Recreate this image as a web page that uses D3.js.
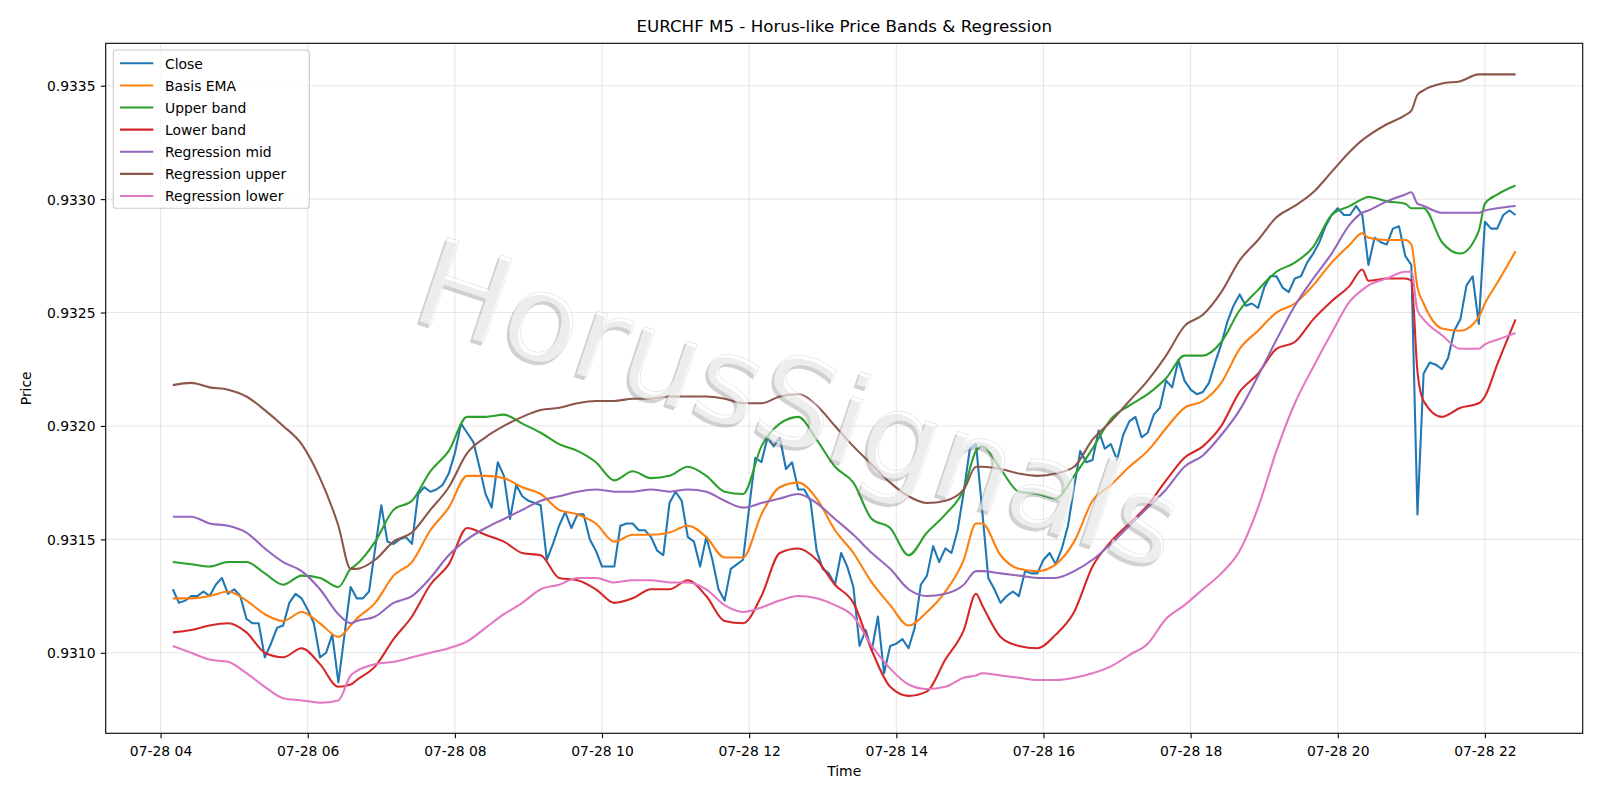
<!DOCTYPE html>
<html><head><meta charset="utf-8">
<script src="https://cdn.jsdelivr.net/npm/d3@7"></script>
<style>body{margin:0;background:#fff;} svg{display:block;font-family:"DejaVu Sans",sans-serif;}</style>
</head><body><svg id="chart" width="1600" height="800"></svg>
<script>
// ---- data ----
const startTime = new Date(2024, 6, 28, 4, 10);
const stepMinutes = 5;
const closeValues = [
0.93128,0.93122,0.93123,0.93125,0.93125,0.93127,0.93125,0.93130,0.93133,0.93126,
0.93128,0.93125,0.93115,0.93113,0.93113,0.93098,0.93104,0.93111,0.93112,0.93122,
0.93126,0.93124,0.93119,0.93113,0.93098,0.93100,0.93108,0.93087,0.93108,0.93129,
0.93124,0.93124,0.93127,0.93146,0.93165,0.93149,0.93148,0.93150,0.93151,0.93148,
0.93170,0.93173,0.93171,0.93172,0.93174,0.93179,0.93188,0.93201,0.93197,0.93193,
0.93182,0.93170,0.93164,0.93184,0.93178,0.93159,0.93174,0.93169,0.93167,0.93166,
0.93165,0.93141,0.93148,0.93156,0.93162,0.93155,0.93161,0.93161,0.93150,0.93145,
0.93138,0.93138,0.93138,0.93156,0.93157,0.93157,0.93154,0.93154,0.93151,0.93145,
0.93143,0.93166,0.93171,0.93167,0.93151,0.93149,0.93138,0.93151,0.93141,0.93128,
0.93123,0.93137,0.93139,0.93141,0.93164,0.93186,0.93184,0.93195,0.93191,0.93195,
0.93181,0.93184,0.93172,0.93172,0.93167,0.93145,0.93137,0.93135,0.93130,0.93144,
0.93138,0.93129,0.93103,0.93110,0.93101,0.93116,0.93091,0.93103,0.93104,0.93106,
0.93102,0.93111,0.93130,0.93134,0.93147,0.93140,0.93146,0.93144,0.93154,0.93171,
0.93190,0.93192,0.93163,0.93133,0.93128,0.93122,0.93125,0.93127,0.93125,0.93136,
0.93135,0.93135,0.93141,0.93144,0.93139,0.93146,0.93156,0.93173,0.93189,0.93184,
0.93185,0.93198,0.93190,0.93192,0.93185,0.93196,0.93202,0.93204,0.93195,0.93197,
0.93205,0.93208,0.93220,0.93217,0.93229,0.93220,0.93216,0.93214,0.93215,0.93219,
0.93228,0.93236,0.93246,0.93253,0.93258,0.93253,0.93254,0.93252,0.93261,0.93266,
0.93266,0.93261,0.93259,0.93265,0.93266,0.93272,0.93276,0.93281,0.93288,0.93293,
0.93296,0.93293,0.93293,0.93297,0.93293,0.93271,0.93283,0.93281,0.93280,0.93287,
0.93288,0.93275,0.93271,0.93161,0.93223,0.93228,0.93227,0.93225,0.93230,0.93242,
0.93247,0.93262,0.93266,0.93245,0.93290,0.93287,0.93287,0.93293,0.93295,0.93293];

// bar indices (5-minute steps from startTime) at which the smooth series were read
const bandIndex = [0,3,6,9,12,15,18,21,24,27,29,30,33,36,39,42,45,48,51,54,57,60,63,66,69,72,75,78,81,84,87,90,93,96,99,102,105,108,111,114,117,120,123,126,129,131,132,135,138,141,144,147,150,153,156,159,162,165,168,171,174,177,180,183,186,189,192,194,195,198,201,202,203,204,207,210,213,214,216,219];

const basisEMA = [0.93124,0.93124,0.93125,0.93127,0.93123,0.93117,0.93114,0.93118,0.93113,0.93107,
0.93112,
0.93115,0.93122,0.93134,0.93140,0.93154,0.93164,0.93178,0.93178,0.93177,0.93173,
0.93170,0.93163,0.93161,0.93157,0.93149,0.93152,0.93152,0.93153,0.93156,0.93151,
0.93142,0.93142,0.93161,0.93173,0.93175,0.93168,0.93154,0.93144,0.93131,0.93121,
0.93112,0.93118,0.93127,0.93141,
0.93157,
0.93157,0.93143,0.93137,0.93136,0.93139,0.93149,0.93167,0.93174,0.93182,0.93189,
0.93199,0.93208,0.93211,0.93219,0.93234,0.93242,0.93250,0.93254,0.93262,0.93272,
0.93280,0.93285,0.93283,0.93282,0.93282,
0.93280,0.93261,
0.93254,0.93243,0.93242,0.93248,
0.93254,
0.93263,0.93277];

const upperBand = [0.93140,0.93139,0.93138,0.93140,0.93140,0.93135,0.93130,0.93134,0.93133,0.93129,
0.93137,
0.93139,0.93149,0.93163,0.93167,0.93180,0.93189,0.93204,0.93204,0.93205,0.93201,
0.93197,0.93192,0.93189,0.93184,0.93176,0.93180,0.93177,0.93178,0.93182,0.93178,
0.93171,0.93170,0.93191,0.93201,0.93204,0.93194,0.93182,0.93175,0.93159,0.93155,
0.93143,0.93153,0.93161,0.93172,
0.93189,
0.93191,0.93181,0.93171,0.93170,0.93168,0.93178,0.93190,0.93203,0.93209,0.93214,
0.93221,0.93231,0.93231,0.93237,0.93251,0.93260,0.93268,0.93272,0.93279,0.93293,
0.93297,0.93300,0.93301,0.93299,0.93298,
0.93296,0.93296,
0.93296,0.93281,0.93276,0.93286,
0.93298,
0.93302,0.93306];

const lowerBand = [0.93109,0.93110,0.93112,0.93113,0.93109,0.93100,0.93098,0.93102,0.93095,0.93085,
0.93086,
0.93088,0.93094,0.93106,0.93116,0.93130,0.93139,0.93155,0.93152,0.93149,0.93144,
0.93143,0.93133,0.93132,0.93128,0.93122,0.93124,0.93128,0.93128,0.93132,0.93125,
0.93114,0.93113,0.93125,0.93144,0.93146,0.93141,0.93130,0.93122,0.93101,0.93085,
0.93081,0.93083,0.93097,0.93110,
0.93126,
0.93121,0.93107,0.93103,0.93102,0.93108,0.93118,0.93138,0.93149,0.93157,0.93165,
0.93176,0.93186,0.93191,0.93200,0.93215,0.93223,0.93234,0.93237,0.93247,0.93255,
0.93262,0.93269,0.93264,0.93265,0.93265,
0.93264,0.93224,
0.93211,0.93204,0.93208,0.93210,
0.93213,
0.93227,0.93247];

const regressionMid = [0.93160,0.93160,0.93157,0.93156,0.93153,0.93146,0.93140,0.93136,0.93128,0.93117,
0.93113,
0.93114,0.93116,0.93122,0.93125,0.93133,0.93143,0.93150,0.93155,0.93159,0.93163,
0.93167,0.93169,0.93171,0.93172,0.93171,0.93171,0.93172,0.93171,0.93172,0.93171,
0.93167,0.93164,0.93166,0.93168,0.93170,0.93166,0.93159,0.93152,0.93144,0.93137,
0.93128,0.93125,0.93126,0.93130,
0.93136,
0.93136,0.93135,0.93134,0.93133,0.93133,0.93136,0.93141,0.93148,0.93156,0.93164,
0.93172,0.93182,0.93187,0.93196,0.93207,0.93222,0.93238,0.93253,0.93265,0.93276,
0.93289,0.93294,0.93295,0.93299,0.93302,
0.93303,0.93298,
0.93297,0.93294,0.93294,0.93294,
0.93295,
0.93296,0.93297];

const regressionUpper = [0.93218,0.93219,0.93217,0.93216,0.93213,0.93207,0.93200,0.93192,0.93177,0.93156,
0.93137,
0.93137,0.93141,0.93149,0.93153,0.93163,0.93173,0.93188,0.93195,0.93200,0.93204,
0.93207,0.93208,0.93210,0.93211,0.93211,0.93212,0.93212,0.93213,0.93213,0.93213,
0.93212,0.93210,0.93210,0.93213,0.93214,0.93209,0.93200,0.93191,0.93183,0.93175,
0.93169,0.93166,0.93167,0.93172,
0.93182,
0.93182,0.93181,0.93179,0.93178,0.93179,0.93182,0.93194,0.93202,0.93211,0.93220,
0.93231,0.93244,0.93249,0.93259,0.93273,0.93282,0.93292,0.93297,0.93303,0.93312,
0.93321,0.93326,0.93328,0.93333,0.93337,
0.93339,0.93346,
0.93348,0.93351,0.93352,0.93355,
0.93355,
0.93355,0.93355];

const regressionLower = [0.93103,0.93100,0.93097,0.93096,0.93091,0.93085,0.93080,0.93079,0.93078,0.93079,
0.93090,
0.93092,0.93095,0.93096,0.93098,0.93100,0.93102,0.93105,0.93111,0.93117,0.93122,
0.93128,0.93130,0.93133,0.93133,0.93131,0.93132,0.93132,0.93131,0.93131,0.93128,
0.93121,0.93118,0.93120,0.93123,0.93125,0.93124,0.93121,0.93116,0.93103,0.93093,
0.93086,0.93084,0.93085,0.93089,
0.93090,
0.93091,0.93090,0.93089,0.93088,0.93088,0.93089,0.93091,0.93094,0.93099,0.93104,
0.93115,0.93121,0.93128,0.93135,0.93145,0.93164,0.93189,0.93210,0.93226,0.93241,
0.93255,0.93260,0.93262,0.93265,0.93268,
0.93268,0.93251,
0.93247,0.93240,0.93234,0.93234,
0.93236,
0.93238,0.93241];

const seriesNames = ["Close","Basis EMA","Upper band","Lower band","Regression mid","Regression upper","Regression lower"];
const seriesColors = ["#1f77b4","#ff7f0e","#2ca02c","#d62728","#9467bd","#8c564b","#e377c2"];
const yTickValues = [0.9310,0.9315,0.9320,0.9325,0.9330,0.9335];
const xTickHours = [4,6,8,10,12,14,16,18,20,22];
const titleText = "EURCHF M5 - Horus-like Price Bands & Regression";
const watermarkText = "HorusSignals";

// ---- layout ----
const W = 1600, H = 800;
const axL = 105.7, axR = 1582.7, axT = 43.3, axB = 733.3;
const svg = d3.select("#chart");
svg.append("rect").attr("width", W).attr("height", H).attr("fill", "#fff");

const toTime = i => new Date(startTime.getTime() + i * stepMinutes * 60000);
const closeData = closeValues.map((v, i) => ({t: toTime(i), v}));
const endTime = toTime(closeValues.length - 1);
const span = endTime - startTime;
const x = d3.scaleTime()
  .domain([new Date(startTime.getTime() - 0.05 * span), new Date(endTime.getTime() + 0.05 * span)])
  .range([axL, axR]);
const y = d3.scaleLinear().domain([0.930645, 0.933687]).range([axB, axT]);

const fontSize = 13.9;
const xTicks = xTickHours.map(h => new Date(2024, 6, 28, h, 0));
const grid = svg.append("g");
grid.selectAll("line.gx").data(xTicks).join("line")
  .attr("x1", d => x(d)).attr("x2", d => x(d)).attr("y1", axT).attr("y2", axB)
  .attr("stroke", "#b0b0b0").attr("stroke-opacity", 0.3).attr("stroke-width", 1.1);
grid.selectAll("line.gy").data(yTickValues).join("line")
  .attr("x1", axL).attr("x2", axR).attr("y1", d => y(d)).attr("y2", d => y(d))
  .attr("stroke", "#b0b0b0").attr("stroke-opacity", 0.3).attr("stroke-width", 1.1);

svg.append("clipPath").attr("id", "clip").append("rect")
  .attr("x", axL).attr("y", axT).attr("width", axR - axL).attr("height", axB - axT);

const plot = svg.append("g").attr("clip-path", "url(#clip)");
const lineClose = d3.line().x(d => x(d.t)).y(d => y(d.v));
const lineSmooth = d3.line().x(d => x(d.t)).y(d => y(d.v)).curve(d3.curveMonotoneX);
const bandSeries = [basisEMA, upperBand, lowerBand, regressionMid, regressionUpper, regressionLower];

plot.append("path").datum(closeData).attr("d", lineClose)
  .attr("fill", "none").attr("stroke", seriesColors[0]).attr("stroke-width", 2.08)
  .attr("stroke-linejoin", "round");
bandSeries.forEach((arr, k) => {
  const data = arr.map((v, j) => ({t: toTime(bandIndex[j]), v}));
  plot.append("path").datum(data).attr("d", lineSmooth)
    .attr("fill", "none").attr("stroke", seriesColors[k + 1]).attr("stroke-width", 2.08)
    .attr("stroke-linejoin", "round");
});

const xAxis = d3.axisBottom(x).tickValues(xTicks).tickFormat(d3.timeFormat("%m-%d %H"))
  .tickSize(4.9).tickPadding(4.9);
const yAxis = d3.axisLeft(y).tickValues(yTickValues).tickFormat(d3.format(".4f"))
  .tickSize(4.9).tickPadding(4.9);
const gx = svg.append("g").attr("transform", `translate(0,${axB})`).call(xAxis);
const gy = svg.append("g").attr("transform", `translate(${axL},0)`).call(yAxis);
[gx, gy].forEach(g => {
  g.select(".domain").remove();
  g.selectAll(".tick line").attr("stroke", "#000").attr("stroke-width", 1.1);
  g.selectAll(".tick text").attr("fill", "#000").attr("font-size", fontSize)
    .attr("font-family", "DejaVu Sans");
});
gx.selectAll(".tick text").attr("dy", null).attr("y", 22.4);
gy.selectAll(".tick text").attr("dy", null).attr("y", 5).attr("x", -10.2);

svg.append("rect").attr("x", axL).attr("y", axT).attr("width", axR - axL).attr("height", axB - axT)
  .attr("fill", "none").attr("stroke", "#000").attr("stroke-width", 1.1);

svg.append("text").attr("x", (axL + axR) / 2).attr("y", 32).attr("text-anchor", "middle")
  .attr("font-size", 16.7).attr("fill", "#000").text(titleText);
svg.append("text").attr("x", (axL + axR) / 2).attr("y", 776).attr("text-anchor", "middle")
  .attr("font-size", fontSize).attr("fill", "#000").text("Time");
svg.append("text").attr("transform", `translate(30.5,${(axT + axB) / 2}) rotate(-90)`)
  .attr("text-anchor", "middle").attr("font-size", fontSize).attr("fill", "#000").text("Price");

const lg = svg.append("g");
lg.append("rect").attr("x", 113.3).attr("y", 50).attr("width", 196).attr("height", 158.3)
  .attr("rx", 2.8).attr("fill", "#fff").attr("fill-opacity", 0.8)
  .attr("stroke", "#cccccc").attr("stroke-width", 1.1);
seriesNames.forEach((name, k) => {
  const cy = 63.3 + k * 22.12;
  lg.append("line").attr("x1", 120).attr("x2", 153.3).attr("y1", cy).attr("y2", cy)
    .attr("stroke", seriesColors[k]).attr("stroke-width", 2.08);
  lg.append("text").attr("x", 165).attr("y", cy + 5.2).attr("font-size", fontSize)
    .attr("fill", "#000").text(name);
});

const wmSize = 122, wmAngle = 18.5;
const shadow = svg.append("g").attr("transform", `translate(797.5,403) rotate(${wmAngle})`);
shadow.append("text").attr("text-anchor", "middle").attr("y", wmSize * 0.38)
  .attr("font-size", wmSize).attr("fill", "#666").attr("fill-opacity", 0.3).text(watermarkText);
const wm = svg.append("g").attr("transform", `translate(800,400) rotate(${wmAngle})`);
wm.append("text").attr("text-anchor", "middle").attr("y", wmSize * 0.38)
  .attr("font-size", wmSize).attr("fill", "#fff").attr("fill-opacity", 0.6)
  .attr("stroke", "#bbb").attr("stroke-opacity", 0.35).attr("stroke-width", 0.8).text(watermarkText);
</script></body></html>
